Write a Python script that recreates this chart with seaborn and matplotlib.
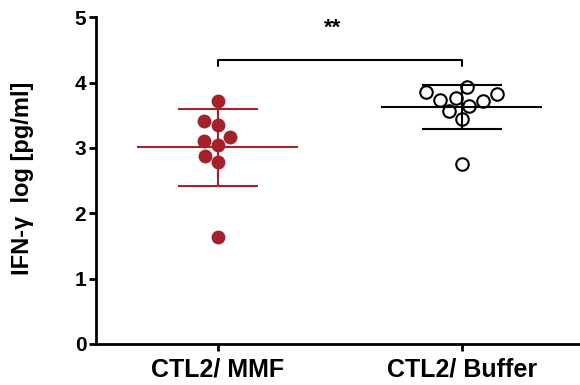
import matplotlib
matplotlib.use("Agg")
import matplotlib.pyplot as plt
import seaborn as sns
import numpy as np
import pandas as pd

sns.set_theme(style="ticks")
plt.rcParams["font.family"] = ["Liberation Sans", "DejaVu Sans"]
plt.rcParams["font.weight"] = "bold"

# 数据
categories = ["CTL2/ MMF", "CTL2/ Buffer"]
mmf_values = [3.72, 3.41, 3.35, 3.16, 3.10, 3.04, 2.88, 2.78, 1.64]
buffer_values = [3.93, 3.85, 3.82, 3.77, 3.74, 3.71, 3.64, 3.57, 3.44, 2.75]
y_ticks = [0, 1, 2, 3, 4, 5]
y_label = "IFN-γ  log [pg/ml]"
sig_label = "**"

RED = "#a3212a"
BLACK = "#000000"

df = pd.DataFrame({
    "group": [categories[0]] * len(mmf_values) + [categories[1]] * len(buffer_values),
    "value": mmf_values + buffer_values,
})

fig = plt.figure(figsize=(5.8, 3.85), dpi=100)
ax = fig.add_axes([0.1655, 0.1065, 0.8345, 0.849])

# 散点
sns.swarmplot(data=df[df.group == categories[0]], x="group", y="value",
              order=categories, color=RED, size=10, linewidth=0, ax=ax, zorder=3)
sns.swarmplot(data=df[df.group == categories[1]], x="group", y="value",
              order=categories, color="white", edgecolor=BLACK, size=9,
              linewidth=1.5, ax=ax, zorder=2)

# 均值 ± SD
for i, (vals, col) in enumerate([(mmf_values, RED), (buffer_values, BLACK)]):
    m = np.mean(vals)
    sd = np.std(vals, ddof=1)
    z = 2 if i == 0 else 3
    ax.hlines(m, i - 0.33, i + 0.33, color=col, lw=1.5, zorder=z)
    ax.errorbar(i, m, yerr=sd, color=col, lw=1.5, capsize=29, capthick=1.5,
                fmt="none", zorder=z)

# 显著性括号
y_br = 4.34
ax.plot([0, 0, 1, 1], [y_br - 0.08, y_br, y_br, y_br - 0.08], color=BLACK, lw=1.5)
ax.text(0.47, 4.83, sig_label, ha="center", va="center", fontsize=16,
        fontweight="bold", color=BLACK)

ax.set_xlim(-0.5, 1.484)
ax.set_ylim(0, 5)
ax.set_yticks(y_ticks, [str(t) for t in y_ticks], fontsize=15, fontweight="bold")
ax.set_xticks(range(len(categories)), categories, fontsize=18, fontweight="bold")
ax.set_xlabel("")
ax.set_ylabel(y_label, fontsize=17, fontweight="bold", color=BLACK)
ax.yaxis.set_label_coords(-0.128, 0.508)
ax.tick_params(axis="both", width=2, length=5, direction="out", colors=BLACK)
ax.tick_params(axis="x", pad=5)
ax.tick_params(axis="y", pad=2)
sns.despine(ax=ax)
for s in ["left", "bottom"]:
    ax.spines[s].set_linewidth(2)
    ax.spines[s].set_color(BLACK)

plt.savefig("out.png", dpi=100)
